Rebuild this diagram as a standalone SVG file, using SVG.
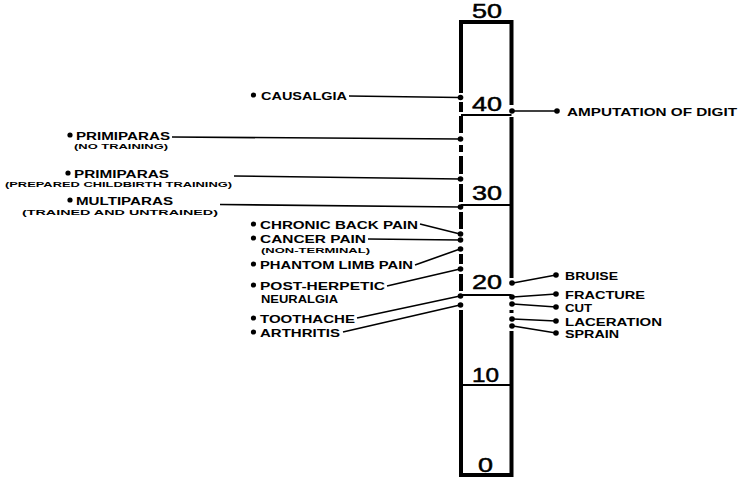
<svg xmlns="http://www.w3.org/2000/svg" width="744" height="480" viewBox="0 0 744 480">
<style>
.b{stroke:#000;stroke-width:4;fill:none;stroke-linecap:butt}
.t{stroke:#000;stroke-width:2.2;fill:none}
.c{stroke:#000;stroke-width:1.6;fill:none}
.d{fill:#000}
.l{font-family:"Liberation Sans",Arial,sans-serif;font-weight:bold;font-size:11.5px;fill:#000}
.s{font-family:"Liberation Sans",Arial,sans-serif;font-weight:bold;font-size:7.5px;fill:#000}
.n{font-family:"Liberation Sans",Arial,sans-serif;font-size:21px;fill:#000;stroke:#000;stroke-width:0.5}
</style>
<rect width="744" height="480" fill="#fff"/>
<g id="scale">
  <path class="b" d="M459,22H513.5M461,475H511.5M461,22V93M461,102V112M461,116V133M461,145V152M461,156V174M461,184V202M461,212V229M461,254V264M461,274V291M461,310V477M511.5,20V105M511.5,117V278M511.5,310V313M511.5,331V477"/>
  <path class="t" d="M461,115H511.5M461,205H511.5M461,295H511.5M461,385H511.5"/>
  <text class="n" x="472" y="17.5" textLength="30" lengthAdjust="spacingAndGlyphs">50</text>
  <text class="n" x="472" y="111" textLength="30" lengthAdjust="spacingAndGlyphs">40</text>
  <text class="n" x="472" y="200" textLength="30" lengthAdjust="spacingAndGlyphs">30</text>
  <text class="n" x="472" y="289" textLength="30" lengthAdjust="spacingAndGlyphs">20</text>
  <text class="n" x="472" y="382" textLength="27" lengthAdjust="spacingAndGlyphs">10</text>
  <text class="n" x="478" y="472" textLength="15" lengthAdjust="spacingAndGlyphs">0</text>
</g>
<g id="connectors">
  <path class="c" d="M349,96L460,97.5"/>
  <path class="c" d="M172,137L460,139"/>
  <path class="c" d="M234,176L460,179"/>
  <path class="c" d="M220,204.5L460,207"/>
  <path class="c" d="M420,224L460,234"/>
  <path class="c" d="M368,239L460,240"/>
  <path class="c" d="M415,265L460,249"/>
  <path class="c" d="M387,286L460,269"/>
  <path class="c" d="M357,318L460,296"/>
  <path class="c" d="M343,332L460,305"/>
  <path class="c" d="M513,111L557,111"/>
  <path class="c" d="M513,283L556,275"/>
  <path class="c" d="M513,297L556,294"/>
  <path class="c" d="M513,304L556,307"/>
  <path class="c" d="M513,319L556,321"/>
  <path class="c" d="M513,326L556,333"/>
  <g class="d">
    <circle cx="460.5" cy="97.5" r="2.8"/>
    <circle cx="460.5" cy="139" r="2.8"/>
    <circle cx="460.5" cy="179" r="2.8"/>
    <circle cx="460.5" cy="207" r="2.8"/>
    <circle cx="460.5" cy="234" r="2.8"/>
    <circle cx="460.5" cy="240" r="2.8"/>
    <circle cx="460.5" cy="249" r="2.8"/>
    <circle cx="460.5" cy="269" r="2.8"/>
    <circle cx="460.5" cy="296" r="2.8"/>
    <circle cx="460.5" cy="305" r="2.8"/>
    <circle cx="512" cy="111" r="2.8"/>
    <circle cx="512" cy="283" r="2.8"/>
    <circle cx="512" cy="297" r="2.8"/>
    <circle cx="512" cy="304" r="2.8"/>
    <circle cx="512" cy="319" r="2.8"/>
    <circle cx="512" cy="326" r="2.8"/>
  </g>
</g>
<g id="causalgia"><circle class="d" cx="253.5" cy="95" r="2.6"/><text class="l" x="261" y="99.5" textLength="86" lengthAdjust="spacingAndGlyphs">CAUSALGIA</text></g>
<g id="primiparas-no-training"><circle class="d" cx="70" cy="135" r="2.6"/><text class="l" x="76" y="139.5" textLength="94" lengthAdjust="spacingAndGlyphs">PRIMIPARAS</text><text class="s" x="74" y="149" textLength="94" lengthAdjust="spacingAndGlyphs">(NO TRAINING)</text></g>
<g id="primiparas-prepared"><circle class="d" cx="68" cy="173" r="2.6"/><text class="l" x="74" y="177.5" textLength="95" lengthAdjust="spacingAndGlyphs">PRIMIPARAS</text><text class="s" x="5" y="187" textLength="227" lengthAdjust="spacingAndGlyphs">(PREPARED CHILDBIRTH TRAINING)</text></g>
<g id="multiparas"><circle class="d" cx="70" cy="200" r="2.6"/><text class="l" x="76" y="204.5" textLength="97" lengthAdjust="spacingAndGlyphs">MULTIPARAS</text><text class="s" x="22" y="215" textLength="196" lengthAdjust="spacingAndGlyphs">(TRAINED AND UNTRAINED)</text></g>
<g id="chronic-back-pain"><circle class="d" cx="253.5" cy="224" r="2.6"/><text class="l" x="260" y="228.5" textLength="158" lengthAdjust="spacingAndGlyphs">CHRONIC BACK PAIN</text></g>
<g id="cancer-pain"><circle class="d" cx="253.5" cy="238" r="2.6"/><text class="l" x="260" y="242.5" textLength="106" lengthAdjust="spacingAndGlyphs">CANCER PAIN</text><text class="s" x="261" y="253" textLength="109" lengthAdjust="spacingAndGlyphs">(NON-TERMINAL)</text></g>
<g id="phantom-limb-pain"><circle class="d" cx="253.5" cy="264" r="2.6"/><text class="l" x="260" y="268.5" textLength="153" lengthAdjust="spacingAndGlyphs">PHANTOM LIMB PAIN</text></g>
<g id="post-herpetic-neuralgia"><circle class="d" cx="253.5" cy="285" r="2.6"/><text class="l" x="260" y="289.5" textLength="125" lengthAdjust="spacingAndGlyphs">POST-HERPETIC</text><text class="l" x="261" y="303" textLength="77" lengthAdjust="spacingAndGlyphs">NEURALGIA</text></g>
<g id="toothache"><circle class="d" cx="253.5" cy="318" r="2.6"/><text class="l" x="260" y="322.5" textLength="95" lengthAdjust="spacingAndGlyphs">TOOTHACHE</text></g>
<g id="arthritis"><circle class="d" cx="253.5" cy="332" r="2.6"/><text class="l" x="260" y="336.5" textLength="80" lengthAdjust="spacingAndGlyphs">ARTHRITIS</text></g>
<g id="amputation"><circle class="d" cx="557" cy="111" r="2.8"/><text class="l" x="567" y="115.5" textLength="170" lengthAdjust="spacingAndGlyphs">AMPUTATION OF DIGIT</text></g>
<g id="bruise"><circle class="d" cx="556" cy="275" r="2.8"/><text class="l" x="565" y="279.5" textLength="53" lengthAdjust="spacingAndGlyphs">BRUISE</text></g>
<g id="fracture"><circle class="d" cx="556" cy="294" r="2.8"/><text class="l" x="565" y="298.5" textLength="80" lengthAdjust="spacingAndGlyphs">FRACTURE</text></g>
<g id="cut"><circle class="d" cx="556" cy="307" r="2.8"/><text class="l" x="565" y="311.5" textLength="27" lengthAdjust="spacingAndGlyphs">CUT</text></g>
<g id="laceration"><circle class="d" cx="556" cy="321" r="2.8"/><text class="l" x="565" y="325.5" textLength="97" lengthAdjust="spacingAndGlyphs">LACERATION</text></g>
<g id="sprain"><circle class="d" cx="556" cy="333" r="2.8"/><text class="l" x="565" y="338" textLength="54" lengthAdjust="spacingAndGlyphs">SPRAIN</text></g>
</svg>
